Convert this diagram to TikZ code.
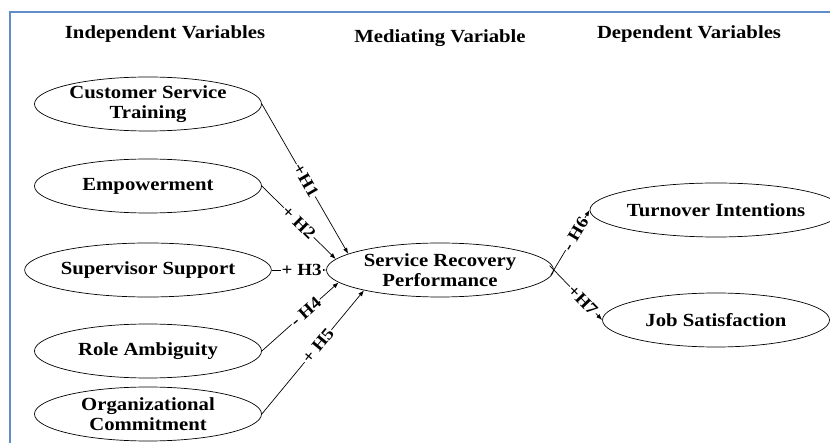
\documentclass[tikz,border=0pt]{standalone}
\usepackage{fontspec}
\setmainfont{Liberation Serif}[FakeStretch=1.12]
\usetikzlibrary{shapes.geometric,arrows.meta}
\definecolor{frameblue}{RGB}{98,141,200}

\begin{document}
\begin{tikzpicture}[x=1pt, y=-1pt,
        every node/.style={font=\fontsize{18.5}{20.5}\selectfont\bfseries},
        var/.style={ellipse, draw, line width=0.7pt, minimum width=227pt, minimum height=54pt, inner sep=0pt, align=center},
        hyp/.style={-{Latex[length=6pt,width=4.5pt]}, line width=0.7pt},
        hlab/.style={pos=#1, sloped, fill=white, inner sep=1pt, font=\fontsize{17}{17}\selectfont\bfseries}]
        \useasboundingbox (0,0) rectangle (830,443);
        % --- Frame ---
        \draw[frameblue, line width=1.6pt] (10,460) -- (10,12) -- (850,12);
        % --- Headings ---
        \node (indep) at (165,34) {Independent Variables};
        \node (medi) at (440,38) {Mediating Variable};
        \node (dep) at (689,34) {Dependent Variables};
        % --- Variables ---
        \node[var] (cst) at (148,104) {Customer Service\\Training};
        \node[var] (emp) at (148,186) {Empowerment};
        \node[var] (sup) at (148,270) {Supervisor Support};
        \node[var] (role) at (148,351) {Role Ambiguity};
        \node[var] (org) at (148,414) {Organizational\\Commitment};
        \node[var] (srp) at (440,270) {Service Recovery\\Performance};
        \node[var] (turn) at (716,210) {Turnover Intentions};
        \node[var] (job) at (716,320) {Job Satisfaction};
        % --- Hypotheses ---
        \draw[hyp] (cst.east) -- (srp.170) node[hlab=0.51] {+H1};
        \draw[hyp] (emp.east) -- (srp.174) node[hlab=0.5] {+ H2};
        \draw[hyp] (sup.east) -- (srp.west) node[hlab=0.55] {+ H3};
        \draw[hyp] (role.east) -- (srp.187) node[hlab=0.57] {- H4};
        \draw[hyp] (org.east) -- (srp.195) node[hlab=0.55] {+ H5};
        \draw[hyp, shorten <=-6pt] (srp.east) -- (turn.west) node[hlab=0.6] {- H6};
        \draw[hyp, shorten <=-6pt] (srp.east) -- (job.west) node[hlab=0.6] {+H7};
        % ---
\end{tikzpicture}
\end{document}
